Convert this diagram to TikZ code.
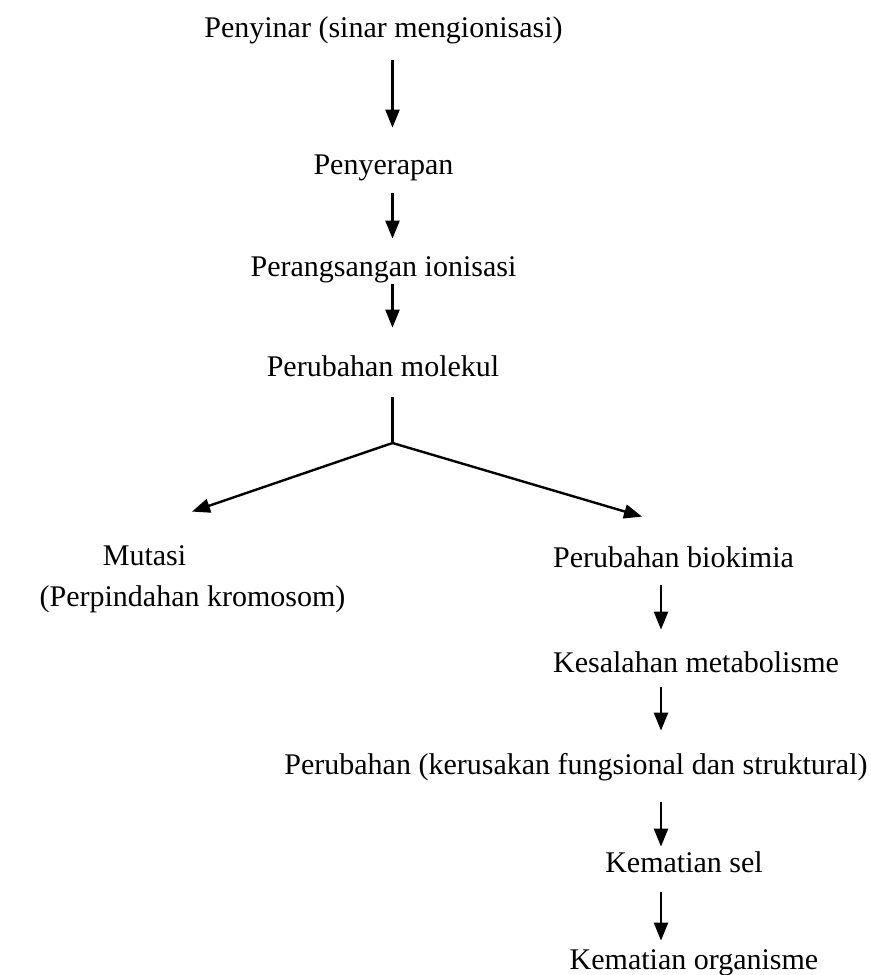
\documentclass[tikz,border=0pt]{standalone}
\usepackage{fontspec}
\setmainfont{Liberation Serif}
\usetikzlibrary{arrows.meta}
\tikzstyle{stage} = [inner sep=0pt, anchor=base, text height=10pt, text depth=3pt, font=\fontsize{15}{17}\selectfont]
\tikzstyle{arrow} = [line width=1.2pt, -{Triangle[length=9pt,width=7pt]}]
\tikzstyle{line} = [line width=1.2pt]

\begin{document}
\begin{tikzpicture}[x=0.5pt, y=-0.5pt]
    \useasboundingbox (0,0) rectangle (871,975);

    % main column
    \node (penyinar) [stage] at (383.5,37) {Penyinar (sinar mengionisasi)};
    \node (penyerapan) [stage] at (383.5,174) {Penyerapan};
    \node (rangsang) [stage] at (383.5,276) {Perangsangan ionisasi};
    \node (molekul) [stage] at (383,376) {Perubahan molekul};

    % left branch
    \node (mutasi) [stage] at (144.5,565) {Mutasi};
    \node (kromosom) [stage] at (192.5,606) {(Perpindahan kromosom)};

    % right branch
    \node (biokimia) [stage] at (673.5,567) {Perubahan biokimia};
    \node (metabolisme) [stage] at (696,672) {Kesalahan metabolisme};
    \node (kerusakan) [stage] at (576,774) {Perubahan (kerusakan fungsional dan struktural)};
    \node (matisel) [stage] at (684,872) {Kematian sel};
    \node (matiorg) [stage] at (694,969) {Kematian organisme};

    \coordinate (colM) at (392.5,0);
    \coordinate (colR) at (661,0);
    \coordinate (split) at (392.5,443);

    \draw [arrow, shorten <=8.5pt, shorten >=13pt] (penyinar.south -| colM) -- (penyerapan.north -| colM);
    \draw [arrow, shorten <=6.5pt, shorten >=8.5pt] (penyerapan.south -| colM) -- (rangsang.north -| colM);
    \draw [arrow, shorten <=1pt, shorten >=14pt] (rangsang.south -| colM) -- (molekul.north -| colM);
    \draw [line, shorten <=7.5pt] (molekul.south -| colM) -- (split);
    \draw [arrow] (split) -- ([shift={(47.5,-33)}]mutasi.north);
    \draw [arrow] (split) -- ([shift={(-31.5,-30)}]biokimia.north);

    \draw [arrow, shorten <=6pt, shorten >=11pt] (biokimia.south -| colR) -- (metabolisme.north -| colR);
    \draw [arrow, shorten <=4.5pt, shorten >=11.5pt] (metabolisme.south -| colR) -- (kerusakan.north -| colR);
    \draw [arrow, shorten <=11pt, shorten >=2.5pt] (kerusakan.south -| colR) -- (matisel.north -| colR);
    \draw [arrow, shorten <=7pt, shorten >=4pt] (matisel.south -| colR) -- (matiorg.north -| colR);

\end{tikzpicture}
\end{document}
